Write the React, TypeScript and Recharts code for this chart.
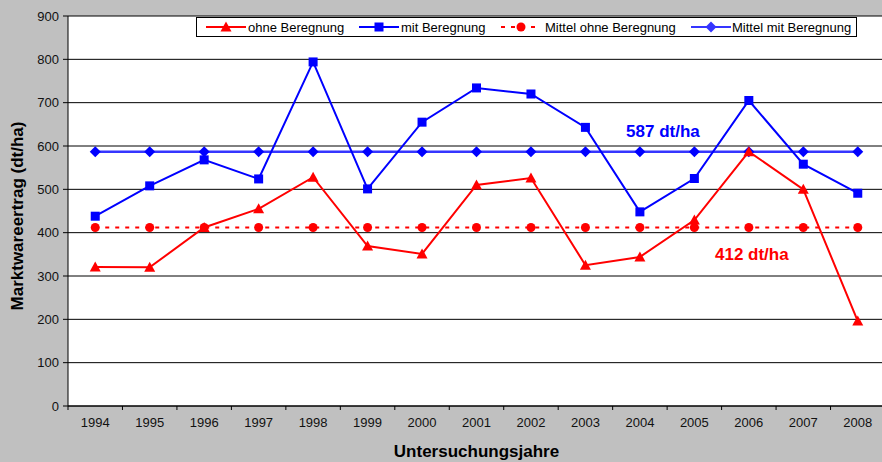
import { LineChart, Line, XAxis, YAxis, CartesianGrid, Legend, ReferenceDot } from 'recharts'

const years = ['1994', '1995', '1996', '1997', '1998', '1999', '2000', '2001', '2002', '2003', '2004', '2005', '2006', '2007', '2008']
const ohneBeregnung = [321, 320, 412, 455, 528, 369, 351, 510, 526, 325, 344, 429, 587, 500, 196]
const mitBeregnung = [438, 508, 568, 524, 794, 501, 655, 734, 720, 643, 448, 525, 705, 558, 491]
const mittelOhne = 412
const mittelMit = 587
const yTicks = [0, 100, 200, 300, 400, 500, 600, 700, 800, 900]

const RED = '#ff0000'
const BLUE = '#0000ff'
const BLUE_MEAN = '#3535ff'
const FONT = '"Liberation Sans", Arial, sans-serif'

const W = 900
const H = 462
const ML = 8
const YW = 60
const MR = 15
const BAND = (W - ML - YW - MR) / years.length

const chartData = years.map((y, i) => ({
  year: y,
  ohne: ohneBeregnung[i],
  mit: mitBeregnung[i],
  mittelOhne,
  mittelMit,
}))

const Triangle = ({ cx, cy, color }: any) => (
  <path d={`M${cx},${cy - 5.5} L${cx + 5.5},${cy + 4.5} L${cx - 5.5},${cy + 4.5} Z`} fill={color} />
)
const Square = ({ cx, cy, color }: any) => <rect x={cx - 4.5} y={cy - 4.5} width={9} height={9} fill={color} />
const Circle = ({ cx, cy, color }: any) => <circle cx={cx} cy={cy} r={4.5} fill={color} />
const Diamond = ({ cx, cy, color }: any) => (
  <path d={`M${cx},${cy - 5.5} L${cx + 5.5},${cy} L${cx},${cy + 5.5} L${cx - 5.5},${cy} Z`} fill={color} />
)

const dotFn = (Shape: any, color: string) => (p: any) => <Shape key={p.index} cx={p.cx} cy={p.cy} color={color} />

// ticks sit between the years, like the original spreadsheet chart
const XTick = (props: any) => {
  const { x, y, payload, index } = props
  const axisY = y - 10
  return (
    <g>
      <line x1={x - BAND / 2} x2={x - BAND / 2} y1={axisY} y2={axisY + 4} stroke="#000" />
      {index === years.length - 1 && (
        <line x1={x + BAND / 2} x2={x + BAND / 2} y1={axisY} y2={axisY + 4} stroke="#000" />
      )}
      <text x={x} y={y} dy={11} textAnchor="middle" fontSize={13} fill="#111" fontFamily={FONT}>
        {payload.value}
      </text>
    </g>
  )
}

const YTitle = ({ viewBox }: any) => {
  const cx = 17
  const cy = viewBox.y + viewBox.height / 2 + 5
  return (
    <text
      x={cx}
      y={cy}
      transform={`rotate(-90, ${cx}, ${cy})`}
      textAnchor="middle"
      dominantBaseline="central"
      fontSize={17}
      fontWeight="bold"
      fill="#000"
      fontFamily={FONT}
    >
      Marktwareertrag (dt/ha)
    </text>
  )
}

const legendItems = [
  { name: 'ohne Beregnung', color: RED, Shape: Triangle, dash: undefined, lineX: 10, textX: 52 },
  { name: 'mit Beregnung', color: BLUE, Shape: Square, dash: undefined, lineX: 163, textX: 205 },
  { name: 'Mittel ohne Beregnung', color: RED, Shape: Circle, dash: '4 6', lineX: 305, textX: 349 },
  { name: 'Mittel mit Beregnung', color: BLUE_MEAN, Shape: Diamond, dash: undefined, lineX: 495, textX: 536 },
]

const LegendBox = () => (
  <svg width={662} height={21} style={{ display: 'block' }}>
    <rect x={0.5} y={0.5} width={660} height={19} fill="#fff" stroke="#000" />
    {legendItems.map((it) => (
      <g key={it.name}>
        <line
          x1={it.lineX}
          x2={it.lineX + 40}
          y1={10}
          y2={10}
          stroke={it.color}
          strokeWidth={2}
          strokeDasharray={it.dash}
        />
        <it.Shape cx={it.lineX + 20} cy={10} color={it.color} />
        <text x={it.textX} y={14.5} fontSize={13} fill="#000" fontFamily={FONT}>
          {it.name}
        </text>
      </g>
    ))}
  </svg>
)

const meanLabel = (text: string, color: string, dx: number, dy: number) => (p: any) => {
  const vb = p.viewBox
  const x = vb.x + vb.width / 2 + dx
  const y = vb.y + vb.height / 2 + dy
  return (
    <text x={x} y={y} textAnchor="middle" dominantBaseline="central" fontSize={17} fontWeight="bold" fill={color} fontFamily={FONT}>
      {text}
    </text>
  )
}

export default function App() {
  return (
    <div
      style={{
        position: 'fixed',
        left: 0,
        top: 0,
        width: 882,
        height: 462,
        overflow: 'hidden',
        background: '#c0c0c0',
      }}
    >
      <LineChart width={W} height={H} data={chartData} margin={{ top: 16, right: MR, bottom: 26, left: ML }}>
        <CartesianGrid vertical={false} stroke="#000" fill="#fff" fillOpacity={1} />
        <XAxis
          dataKey="year"
          padding={{ left: BAND / 2, right: BAND / 2 }}
          axisLine={{ stroke: '#000' }}
          tickLine={false}
          tickSize={4}
          tickMargin={6}
          height={30}
          interval={0}
          tick={<XTick />}
          label={{
            value: 'Untersuchungsjahre',
            position: 'insideBottom',
            offset: -21,
            fontSize: 17,
            fontWeight: 'bold',
            fill: '#000',
            fontFamily: FONT,
          }}
        />
        <YAxis
          width={YW}
          domain={[0, 900]}
          ticks={yTicks}
          interval={0}
          axisLine={{ stroke: '#000' }}
          tickLine={{ stroke: '#000' }}
          tickSize={5}
          tickMargin={4}
          tick={{ fontSize: 13, fill: '#111', fontFamily: FONT }}
          label={{ content: <YTitle /> }}
        />
        <Legend
          layout="vertical"
          verticalAlign="middle"
          align="center"
          wrapperStyle={{ position: 'absolute', top: 17, left: 196, width: 662, height: 21 }}
          content={<LegendBox />}
        />
        <Line
          dataKey="mittelOhne"
          stroke={RED}
          strokeWidth={2}
          strokeDasharray="4 6"
          dot={dotFn(Circle, RED)}
          isAnimationActive={false}
        />
        <Line
          dataKey="mittelMit"
          stroke={BLUE_MEAN}
          strokeWidth={2.5}
          dot={dotFn(Diamond, BLUE)}
          isAnimationActive={false}
        />
        <Line dataKey="mit" stroke={BLUE} strokeWidth={2} dot={dotFn(Square, BLUE)} isAnimationActive={false} />
        <Line dataKey="ohne" stroke={RED} strokeWidth={2} dot={dotFn(Triangle, RED)} isAnimationActive={false} />
        <ReferenceDot x="2004" y={mittelMit} r={0} stroke="none" label={meanLabel('587 dt/ha', BLUE, 23, -20)} />
        <ReferenceDot x="2006" y={mittelOhne} r={0} stroke="none" label={meanLabel('412 dt/ha', RED, 3, 27)} />
      </LineChart>
    </div>
  )
}
